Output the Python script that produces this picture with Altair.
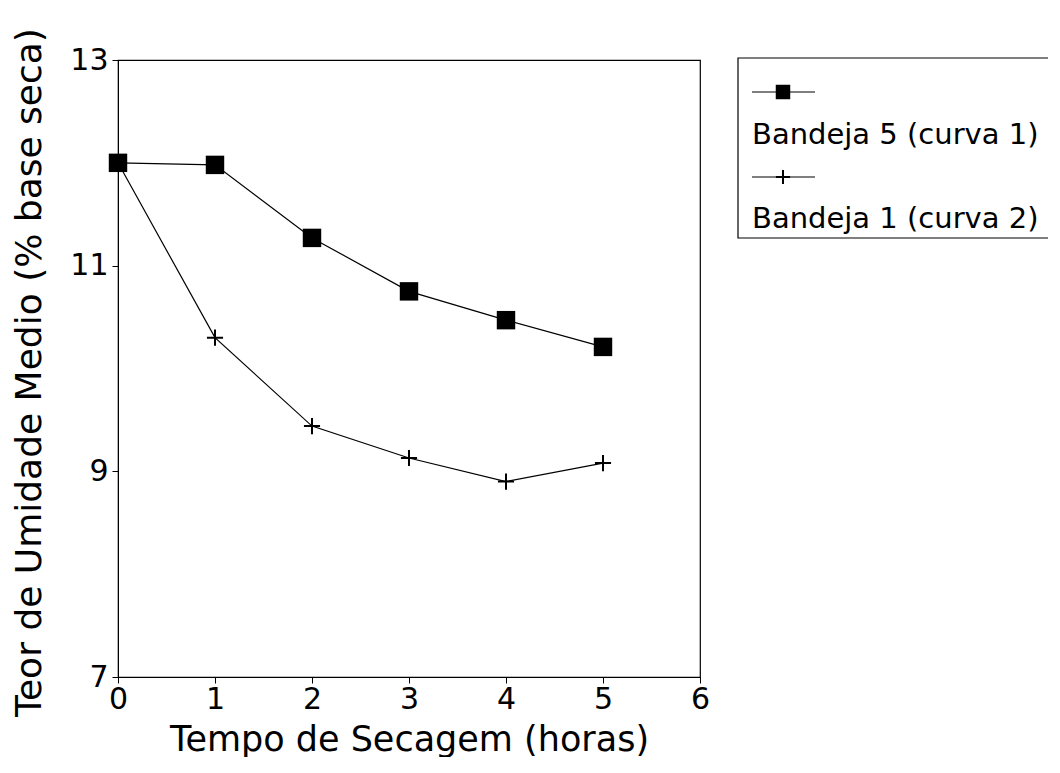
import altair as alt
import pandas as pd

# Data
horas = [0, 1, 2, 3, 4, 5]
bandeja5 = [12.00, 11.98, 11.27, 10.75, 10.47, 10.21]
bandeja1 = [12.00, 10.30, 9.44, 9.13, 8.90, 9.08]
series_names = ["Bandeja 5 (curva 1)", "Bandeja 1 (curva 2)"]
x_ticks = [0, 1, 2, 3, 4, 5, 6]
y_ticks = [7, 9, 11, 13]

FONT = "DejaVu Sans"
PLUS_PATH = "M-1,0H1M0,-1V1"

df = pd.DataFrame({
    "horas": horas * 2,
    "teor": bandeja5 + bandeja1,
    "serie": [series_names[0]] * len(horas) + [series_names[1]] * len(horas),
})

xs = alt.Scale(domain=[0, 6], nice=False, zero=False)
ys = alt.Scale(domain=[7, 13], nice=False, zero=False)

axis_common = dict(grid=False, tickSize=6, tickColor="black", domainColor="black",
                   labelFont=FONT, titleFont=FONT, labelFontSize=30,
                   labelColor="black", titleColor="black", titleFontWeight="normal",
                   labelFlush=False, format="d")

x_enc = alt.X("horas:Q", scale=xs, title="Tempo de Secagem (horas)",
              axis=alt.Axis(values=x_ticks, labelPadding=1, titlePadding=8,
                            titleFontSize=35, **axis_common))
y_enc = alt.Y("teor:Q", scale=ys, title="Teor de Umidade Medio (% base seca)",
              axis=alt.Axis(values=y_ticks, labelPadding=4, titleFontSize=36,
                            titleX=-89, titleY=312, titleAngle=270,
                            titleAlign="center", titleBaseline="middle",
                            **axis_common))

s5 = alt.Chart(df).transform_filter(alt.datum.serie == series_names[0])
s1 = alt.Chart(df).transform_filter(alt.datum.serie == series_names[1])

line5 = s5.mark_line(color="black", strokeWidth=1.2).encode(x=x_enc, y=y_enc)
pts5 = s5.mark_point(shape="square", filled=True, color="black", size=340, opacity=1).encode(x=x_enc, y=y_enc)
line1 = s1.mark_line(color="black", strokeWidth=1.2).encode(x=x_enc, y=y_enc)
pts1 = s1.mark_point(shape=PLUS_PATH, filled=False, color="black", strokeWidth=2,
                     size=260, opacity=1).encode(x=x_enc, y=y_enc)

# Legend (drawn as decoration to the right of the plot)
leg_df = pd.DataFrame({"serie": series_names})
leg_base = alt.Chart(leg_df)
f0 = alt.datum.serie == series_names[0]
f1 = alt.datum.serie == series_names[1]
leg_box = leg_base.transform_filter(f0).mark_rect(
    fill="white", stroke="black", strokeWidth=1.2, clip=False).encode(
    x=alt.value(620), x2=alt.value(1000), y=alt.value(-2), y2=alt.value(178))
leg_l1 = leg_base.transform_filter(f0).mark_rule(color="black", strokeWidth=1.2).encode(
    x=alt.value(634), x2=alt.value(697), y=alt.value(32))
leg_p1 = leg_base.transform_filter(f0).mark_point(
    shape="square", filled=True, color="black", size=210, opacity=1).encode(
    x=alt.value(665), y=alt.value(32))
leg_t1 = leg_base.transform_filter(f0).mark_text(
    align="left", baseline="middle", font=FONT, fontSize=29, color="black").encode(
    x=alt.value(634), y=alt.value(75), text="serie:N")
leg_l2 = leg_base.transform_filter(f1).mark_rule(color="black", strokeWidth=1.2).encode(
    x=alt.value(634), x2=alt.value(697), y=alt.value(117))
leg_p2 = leg_base.transform_filter(f1).mark_point(
    shape=PLUS_PATH, filled=False, color="black", strokeWidth=2, size=200, opacity=1).encode(
    x=alt.value(665), y=alt.value(117))
leg_t2 = leg_base.transform_filter(f1).mark_text(
    align="left", baseline="middle", font=FONT, fontSize=29, color="black").encode(
    x=alt.value(634), y=alt.value(159), text="serie:N")

chart = alt.layer(
    line5, line1, pts5, pts1,
    leg_box, leg_l1, leg_p1, leg_t1, leg_l2, leg_p2, leg_t2,
).properties(
    width=582, height=617,
    autosize=alt.AutoSizeParams(type="none"),
    padding={"left": 110, "top": 52, "right": 348, "bottom": 80},
    background="white",
).configure_view(
    stroke="black", strokeWidth=1.2
)

chart.save("out.html", embed_options={"renderer": "svg", "actions": False})
